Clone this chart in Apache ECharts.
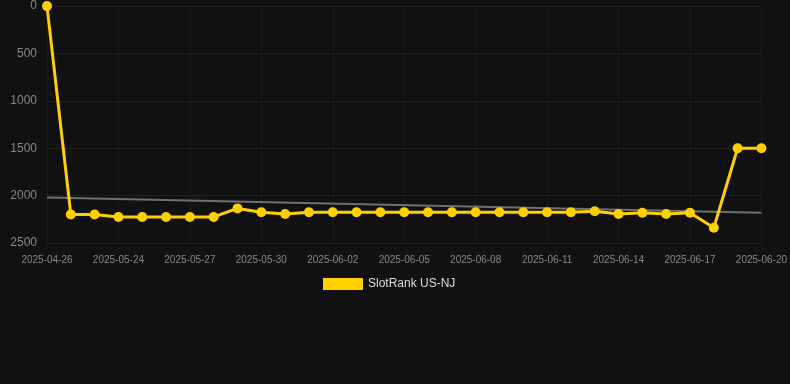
<!DOCTYPE html>
<html>
<head>
<meta charset="utf-8">
<script src="https://cdn.jsdelivr.net/npm/echarts@6/dist/echarts.min.js"></script>
<style>
html,body{margin:0;padding:0;background:#111111;}
#chart{width:790px;height:384px;}
</style>
</head>
<body>
<div id="chart"></div>
<script>
var categories = ['2025-04-26','2025-05-22','2025-05-23','2025-05-24','2025-05-25','2025-05-26','2025-05-27','2025-05-28','2025-05-29','2025-05-30','2025-05-31','2025-06-01','2025-06-02','2025-06-03','2025-06-04','2025-06-05','2025-06-06','2025-06-07','2025-06-08','2025-06-09','2025-06-10','2025-06-11','2025-06-12','2025-06-13','2025-06-14','2025-06-15','2025-06-16','2025-06-17','2025-06-18','2025-06-19','2025-06-20'];
var rankValues = [1,2200,2200,2225,2225,2225,2225,2225,2135,2175,2195,2175,2175,2175,2175,2175,2175,2175,2175,2175,2175,2175,2175,2165,2195,2180,2195,2180,2340,1500,1500];
var trendEnds = [2020,2180];
var seriesName = 'SlotRank US-NJ';

var trendData = categories.map(function(){ return null; });
trendData[0] = trendEnds[0];
trendData[categories.length-1] = trendEnds[1];

var chart = echarts.init(document.getElementById('chart'));
chart.setOption({
  backgroundColor: '#111111',
  animation: false,
  grid: {left: 47, right: 28, top: 6, bottom: 141, containLabel: false},
  legend: {
    data: [seriesName],
    top: 273,
    left: 318,
    itemWidth: 40,
    itemHeight: 12,
    icon: 'rect',
    textStyle: {color: '#dddddd', fontSize: 12, fontFamily: 'Liberation Sans, Arial, sans-serif'}
  },
  xAxis: {
    type: 'category',
    data: categories,
    boundaryGap: false,
    axisLine: {show: false},
    axisTick: {show: false},
    axisLabel: {interval: 2, color: '#888888', fontSize: 10, margin: 12, fontFamily: 'Liberation Sans, Arial, sans-serif'},
    splitLine: {show: true, interval: 2, lineStyle: {color: '#1a1a1a', width: 1}}
  },
  yAxis: {
    type: 'value',
    inverse: true,
    min: 0,
    max: 2500,
    interval: 500,
    axisLine: {show: false},
    axisTick: {show: false},
    axisLabel: {color: '#888888', fontSize: 12, margin: 10, fontFamily: 'Liberation Sans, Arial, sans-serif', formatter: function(v){ return String(v); }},
    splitLine: {show: true, lineStyle: {color: '#202020', width: 1}}
  },
  series: [
    {
      name: 'trend',
      type: 'line',
      data: trendData,
      connectNulls: true,
      showSymbol: false,
      symbol: 'none',
      lineStyle: {color: '#707070', width: 2},
      z: 1,
      silent: true
    },
    {
      name: seriesName,
      type: 'line',
      data: rankValues,
      symbol: 'circle',
      symbolSize: 10,
      showAllSymbol: true,
      itemStyle: {color: '#FFD000'},
      lineStyle: {color: '#FFD000', width: 3},
      z: 3
    }
  ]
});
</script>
</body>
</html>
